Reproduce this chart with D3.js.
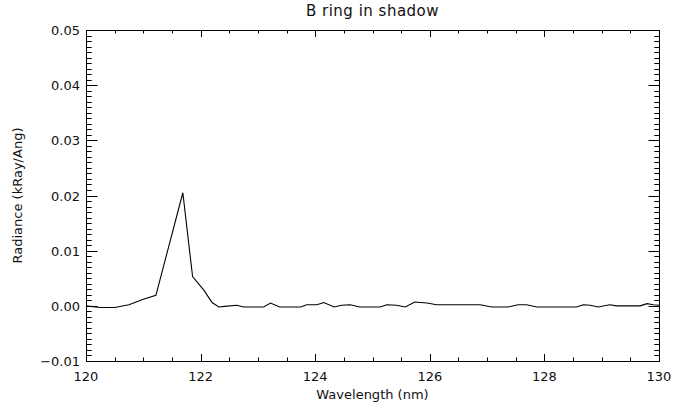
<!DOCTYPE html>
<html><head><meta charset="utf-8">
<script src="https://cdn.jsdelivr.net/npm/d3@7"></script>
<style>body{margin:0;background:#fff}svg{display:block}text{font-family:"DejaVu Sans",sans-serif;fill:#111}</style>
</head><body><svg id="c" width="673" height="413"></svg>
<script>
const title = "B ring in shadow";
const xLabel = "Wavelength (nm)";
const yLabel = "Radiance (kRay/Ang)";
const wavelength = [120.0,120.25,120.5,120.75,121.0,121.22,121.45,121.69,121.86,122.06,122.2,122.32,122.42,122.63,122.75,123.1,123.22,123.38,123.75,123.85,124.03,124.15,124.33,124.46,124.61,124.78,125.13,125.25,125.42,125.57,125.74,125.95,126.12,126.53,126.88,127.08,127.37,127.54,127.69,127.87,128.56,128.68,128.8,128.94,129.14,129.26,129.67,129.79,129.9,130.0];
const radiance = [0.0000,-0.0003,-0.0003,0.0002,0.0012,0.0019,0.0110,0.0205,0.0053,0.0028,0.0006,-0.0002,-0.0001,0.0001,-0.0002,-0.0002,0.0005,-0.0002,-0.0002,0.0002,0.0002,0.0006,-0.0002,0.0001,0.0002,-0.0002,-0.0002,0.0002,0.0001,-0.0002,0.0007,0.0005,0.0002,0.0002,0.0002,-0.0002,-0.0002,0.0002,0.0002,-0.0002,-0.0002,0.0002,0.0001,-0.0002,0.0002,0.0000,0.0000,0.0004,0.0002,0.0001];
const xMajor = [120,122,124,126,128,130];
const yMajor = [-0.01,0.00,0.01,0.02,0.03,0.04,0.05];

const svg = d3.select("#c");
const L=86,R=659,T=30,B=361;
const x = d3.scaleLinear().domain([120,130]).range([L,R]);
const y = d3.scaleLinear().domain([-0.01,0.05]).range([B,T]);
const xMinor = d3.range(0,21).map(i=>120+i*0.5).filter((v,i)=>i%4!==0);
const yMinor = d3.range(0,61).map(i=>-0.01+i*0.001).filter((v,i)=>i%10!==0);

const g = svg.append("g");
g.append("rect").attr("x",L+0.5).attr("y",T+0.5).attr("width",R-L).attr("height",B-T)
 .attr("fill","none").attr("stroke","#000").attr("stroke-width",1);

const tp = d3.path();
function xt(vals,len){
  vals.forEach(v=>{
    const px=Math.round(x(v))+0.5;
    tp.moveTo(px,B); tp.lineTo(px,B-len);
    tp.moveTo(px,T); tp.lineTo(px,T+len);
  });
}
function yt(vals,len){
  vals.forEach(v=>{
    const py=Math.round(y(v))+0.5;
    tp.moveTo(L,py); tp.lineTo(L+len,py);
    tp.moveTo(R+1,py); tp.lineTo(R+1-len,py);
  });
}
xt(xMajor,7); xt(xMinor,3.5); yt(yMajor,11.5); yt(yMinor,5.7);
g.append("path").attr("d",tp.toString()).attr("fill","none").attr("stroke","#000").attr("stroke-width",1);

g.selectAll("text.xl").data(xMajor).enter().append("text").attr("class","xl")
 .attr("x",d=>x(d)).attr("y",B+20).attr("text-anchor","middle").style("font-size","13px").text(d3.format("d"));
g.selectAll("text.yl").data(yMajor).enter().append("text").attr("class","yl")
 .attr("x",L-6).attr("y",d=>y(d)+5).attr("text-anchor","end").style("font-size","13px").text(d=>d3.format(".2f")(d).replace("-","\u2212"));

const line = d3.line().x((d,i)=>x(wavelength[i])).y(d=>y(d));
g.append("path").datum(radiance).attr("d",line).attr("fill","none").attr("stroke","#000").attr("stroke-width",1.1);

svg.append("text").attr("x",(L+R)/2).attr("y",16).attr("text-anchor","middle").style("font-size","15px").style("letter-spacing","0.5px").text(title);
svg.append("text").attr("x",(L+R)/2).attr("y",399).attr("text-anchor","middle").style("font-size","13px").text(xLabel);
svg.append("text").attr("transform",`translate(22,${(T+B)/2}) rotate(-90)`).attr("text-anchor","middle").style("font-size","13px").text(yLabel);
</script></body></html>
